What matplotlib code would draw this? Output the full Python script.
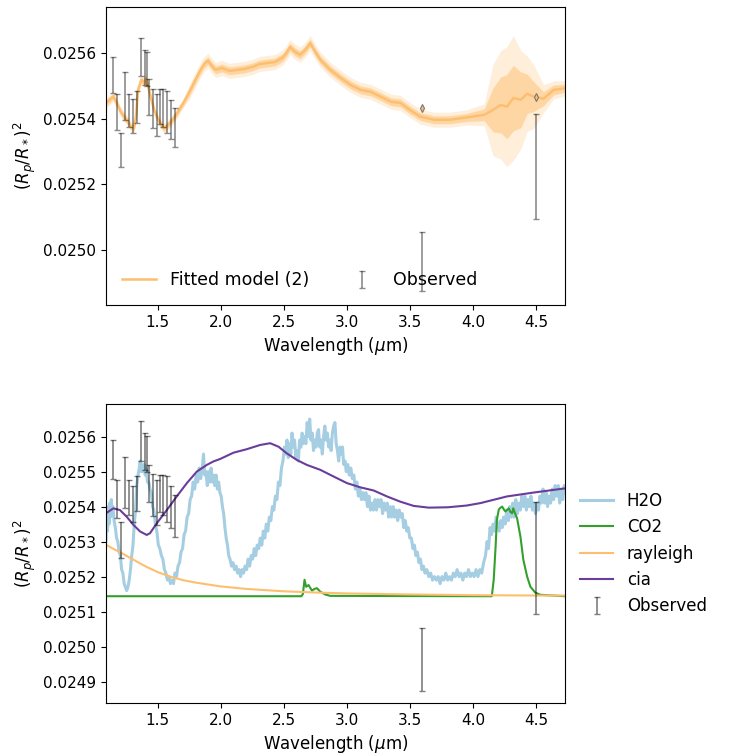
import matplotlib.pyplot as plt
from matplotlib.ticker import MultipleLocator, FormatStrFormatter

# Colours (Paired palette)
h2o_color = '#a6cee3'
co2_color = '#33a02c'
ray_color = '#fdbf6f'
cia_color = '#6a3d9a'
obs_color = 'k'

# Observed spectrum (HST + Spitzer)
obs_wl = [1.149, 1.181, 1.213, 1.244, 1.276, 1.303, 1.335, 1.371, 1.398, 1.414,
          1.433, 1.467, 1.494, 1.520, 1.546, 1.578, 1.605, 1.637, 3.6, 4.5]
obs_val = [0.025534, 0.025422, 0.025305, 0.025469, 0.025425, 0.025408, 0.025436,
           0.025587, 0.025557, 0.025551, 0.025466, 0.025432, 0.025412, 0.025438,
           0.025433, 0.025421, 0.025398, 0.025373, 0.024964, 0.025254]
obs_err = [5.5e-5, 5.5e-5, 5.2e-5, 7.4e-5, 5.0e-5, 5.1e-5, 5.0e-5, 5.8e-5, 5.3e-5,
           5.2e-5, 5.4e-5, 6.0e-5, 6.4e-5, 5.3e-5, 5.8e-5, 6.5e-5, 6.0e-5, 6.0e-5,
           9.0e-5, 1.6e-4]

# Fitted model (2) with 1 and 2 sigma half widths
model_wl = [1.091, 1.120, 1.149, 1.180, 1.208, 1.240, 1.265, 1.287, 1.313, 1.330,
            1.345, 1.371, 1.393, 1.405, 1.420, 1.445, 1.472, 1.505, 1.538, 1.552,
            1.590, 1.631, 1.670, 1.710, 1.760, 1.800, 1.840, 1.870, 1.900, 1.930,
            1.960, 2.010, 2.070, 2.130, 2.190, 2.250, 2.310, 2.370, 2.430, 2.490,
            2.520, 2.550, 2.590, 2.630, 2.670, 2.710, 2.750, 2.790, 2.870, 2.950,
            3.030, 3.110, 3.190, 3.270, 3.350, 3.425, 3.500, 3.580, 3.690, 3.820,
            3.950, 4.090, 4.160, 4.220, 4.270, 4.320, 4.380, 4.430, 4.480, 4.560,
            4.640, 4.730]
model_val = [0.025448, 0.025458, 0.025468, 0.025445, 0.025421, 0.025403, 0.025391,
             0.025376, 0.025372, 0.025412, 0.025488, 0.025519, 0.025510, 0.025522,
             0.025506, 0.025467, 0.025427, 0.025397, 0.025376, 0.025371, 0.025384,
             0.025403, 0.025427, 0.025452, 0.025488, 0.025519, 0.025549, 0.025567,
             0.025577, 0.025561, 0.025549, 0.025555, 0.025546, 0.025549, 0.025552,
             0.025558, 0.025567, 0.025570, 0.025573, 0.025586, 0.025600, 0.025619,
             0.025604, 0.025595, 0.025610, 0.025631, 0.025604, 0.025580, 0.025549,
             0.025525, 0.025503, 0.025488, 0.025482, 0.025467, 0.025452, 0.025448,
             0.025427, 0.025407, 0.025397, 0.025397, 0.025404, 0.025412, 0.025427,
             0.025442, 0.025437, 0.025463, 0.025458, 0.025476, 0.025468, 0.025461,
             0.025488, 0.025493]
sig1 = [9e-6] * 24 + [1.2e-5] * 37 + [1.8e-5, 6.7e-5, 8.5e-5, 9.8e-5, 1.0e-4,
                                      8.5e-5, 6.0e-5, 4.6e-5, 2.1e-5, 1.5e-5, 1.2e-5]
sig2 = [1.5e-5] * 24 + [2.3e-5] * 37 + [3.4e-5, 1.4e-4, 1.65e-4, 1.83e-4, 1.9e-4,
                                        1.5e-4, 1.15e-4, 9.8e-5, 4.3e-5, 2.7e-5, 2.4e-5]

# Binned model at the Spitzer points
binned_wl = [3.6, 4.5]
binned_val = [0.025434, 0.025465]

# H2O contribution
h2o_wl = [
    1.091, 1.097, 1.103, 1.109, 1.115, 1.121, 1.127, 1.133, 1.140, 1.146,
    1.155, 1.165, 1.175, 1.185, 1.195, 1.205, 1.215, 1.225, 1.235, 1.245,
    1.255, 1.265, 1.275, 1.285, 1.295, 1.305, 1.315, 1.325, 1.335, 1.345,
    1.355, 1.362, 1.370, 1.378, 1.386, 1.394, 1.402, 1.410, 1.420, 1.430,
    1.440, 1.450, 1.460, 1.470, 1.482, 1.494, 1.506, 1.518, 1.530, 1.542,
    1.554, 1.566, 1.578, 1.590, 1.602, 1.614, 1.626, 1.638, 1.650, 1.662,
    1.674, 1.686, 1.698, 1.710, 1.722, 1.734, 1.746, 1.758, 1.770, 1.782,
    1.794, 1.806, 1.818, 1.830, 1.842, 1.854, 1.864, 1.874, 1.884, 1.894,
    1.904, 1.914, 1.924, 1.934, 1.944, 1.954, 1.964, 1.974, 1.984, 1.994,
    2.004, 2.014, 2.024, 2.034, 2.044, 2.054, 2.064, 2.074, 2.086, 2.098,
    2.110, 2.122, 2.134, 2.146, 2.158, 2.170, 2.182, 2.194, 2.206, 2.218,
    2.230, 2.242, 2.254, 2.266, 2.278, 2.290, 2.302, 2.314, 2.326, 2.338,
    2.350, 2.362, 2.374, 2.386, 2.398, 2.410, 2.422, 2.434, 2.446, 2.458,
    2.470, 2.482, 2.494, 2.506, 2.516, 2.526, 2.536, 2.546, 2.556, 2.566,
    2.576, 2.586, 2.596, 2.606, 2.616, 2.626, 2.636, 2.646, 2.656, 2.666,
    2.676, 2.686, 2.696, 2.706, 2.716, 2.726, 2.736, 2.746, 2.756, 2.766,
    2.776, 2.786, 2.796, 2.806, 2.816, 2.826, 2.836, 2.846, 2.856, 2.866,
    2.876, 2.886, 2.896, 2.906, 2.916, 2.926, 2.936, 2.946, 2.956, 2.966,
    2.976, 2.986, 2.996, 3.008, 3.020, 3.032, 3.044, 3.056, 3.068, 3.080,
    3.092, 3.104, 3.116, 3.128, 3.140, 3.152, 3.164, 3.176, 3.188, 3.200,
    3.212, 3.224, 3.236, 3.248, 3.260, 3.272, 3.284, 3.296, 3.308, 3.320,
    3.332, 3.344, 3.356, 3.368, 3.380, 3.392, 3.404, 3.416, 3.428, 3.440,
    3.452, 3.464, 3.476, 3.488, 3.500, 3.512, 3.524, 3.536, 3.548, 3.560,
    3.572, 3.584, 3.596, 3.608, 3.620, 3.635, 3.650, 3.665, 3.680, 3.695,
    3.710, 3.725, 3.740, 3.755, 3.770, 3.785, 3.800, 3.815, 3.830, 3.845,
    3.860, 3.875, 3.890, 3.905, 3.920, 3.935, 3.950, 3.965, 3.980, 3.995,
    4.010, 4.025, 4.040, 4.055, 4.070, 4.085, 4.100, 4.112, 4.124, 4.136,
    4.148, 4.160, 4.172, 4.184, 4.196, 4.208, 4.220, 4.232, 4.244, 4.256,
    4.268, 4.280, 4.292, 4.304, 4.316, 4.328, 4.340, 4.352, 4.364, 4.376,
    4.388, 4.400, 4.412, 4.424, 4.436, 4.448, 4.460, 4.472, 4.484, 4.496,
    4.508, 4.520, 4.532, 4.544, 4.556, 4.568, 4.580, 4.592, 4.604, 4.616,
    4.628, 4.640, 4.652, 4.664, 4.676, 4.688, 4.700, 4.712, 4.724, 4.730]
h2o_val = [
    0.02530, 0.02538, 0.02533, 0.02540, 0.02535, 0.02541, 0.02537, 0.02542, 0.02538, 0.02540,
    0.02536, 0.02534, 0.02531, 0.02530, 0.02527, 0.02526, 0.02522, 0.02521, 0.02518, 0.02517,
    0.02516, 0.02517, 0.02519, 0.02522, 0.02526, 0.02529, 0.02535, 0.02539, 0.02546, 0.02549,
    0.02551, 0.02553, 0.02550, 0.02552, 0.02550, 0.02552, 0.02549, 0.02551, 0.02547, 0.02547,
    0.02545, 0.02544, 0.02540, 0.02539, 0.02535, 0.02533, 0.02529, 0.02528, 0.02526, 0.02525,
    0.02522, 0.02521, 0.02519, 0.02520, 0.02518, 0.02519, 0.02518, 0.02521, 0.02520, 0.02523,
    0.02524, 0.02527, 0.02528, 0.02532, 0.02533, 0.02537, 0.02538, 0.02542, 0.02543, 0.02547,
    0.02545, 0.02549, 0.02547, 0.02551, 0.02548, 0.02551, 0.02555, 0.02549, 0.02550, 0.02546,
    0.02550, 0.02547, 0.02551, 0.02547, 0.02549, 0.02546, 0.02549, 0.02545, 0.02547, 0.02544,
    0.02543, 0.02540, 0.02538, 0.02534, 0.02531, 0.02529, 0.02526, 0.02525, 0.02523, 0.02524,
    0.02522, 0.02523, 0.02521, 0.02522, 0.02520, 0.02522, 0.02521, 0.02523, 0.02522, 0.02525,
    0.02523, 0.02526, 0.02525, 0.02528, 0.02526, 0.02529, 0.02528, 0.02531, 0.02529, 0.02533,
    0.02531, 0.02535, 0.02533, 0.02537, 0.02536, 0.02540, 0.02539, 0.02543, 0.02542, 0.02547,
    0.02546, 0.02551, 0.02553, 0.02557, 0.02555, 0.02559, 0.02554, 0.02558, 0.02555, 0.02561,
    0.02557, 0.02559, 0.02554, 0.02556, 0.02553, 0.02559, 0.02557, 0.02561, 0.02558, 0.02560,
    0.02558, 0.02564, 0.02560, 0.02565, 0.02559, 0.02561, 0.02556, 0.02559, 0.02557, 0.02561,
    0.02562, 0.02557, 0.02559, 0.02555, 0.02560, 0.02563, 0.02559, 0.02561, 0.02557, 0.02559,
    0.02556, 0.02561, 0.02563, 0.02564, 0.02558, 0.02556, 0.02553, 0.02557, 0.02555, 0.02557,
    0.02552, 0.02553, 0.02550, 0.02552, 0.02549, 0.02551, 0.02548, 0.02549, 0.02545, 0.02547,
    0.02543, 0.02545, 0.02542, 0.02544, 0.02542, 0.02544, 0.02540, 0.02543, 0.02539, 0.02541,
    0.02539, 0.02542, 0.02539, 0.02542, 0.02540, 0.02542, 0.02538, 0.02541, 0.02539, 0.02541,
    0.02537, 0.02540, 0.02537, 0.02540, 0.02537, 0.02539, 0.02536, 0.02539, 0.02537, 0.02538,
    0.02534, 0.02536, 0.02533, 0.02534, 0.02531, 0.02531, 0.02528, 0.02529, 0.02526, 0.02527,
    0.02524, 0.02525, 0.02522, 0.02523, 0.02521, 0.02522, 0.02520, 0.02521, 0.02519, 0.02520,
    0.02519, 0.02520, 0.02518, 0.02520, 0.02519, 0.02521, 0.02519, 0.02520, 0.02519, 0.02521,
    0.02520, 0.02522, 0.02520, 0.02521, 0.02519, 0.02521, 0.02520, 0.02522, 0.02520, 0.02521,
    0.02520, 0.02522, 0.02520, 0.02522, 0.02521, 0.02524, 0.02526, 0.02530, 0.02528, 0.02534,
    0.02532, 0.02535, 0.02533, 0.02537, 0.02535, 0.02533, 0.02536, 0.02534, 0.02537, 0.02535,
    0.02539, 0.02536, 0.02540, 0.02537, 0.02541, 0.02537, 0.02542, 0.02538, 0.02541, 0.02539,
    0.02543, 0.02540, 0.02543, 0.02539, 0.02542, 0.02540, 0.02543, 0.02539, 0.02541, 0.02538,
    0.02541, 0.02539, 0.02543, 0.02541, 0.02545, 0.02541, 0.02544, 0.02540, 0.02543, 0.02541,
    0.02545, 0.02542, 0.02546, 0.02543, 0.02546, 0.02541, 0.02545, 0.02542, 0.02546, 0.02544]

# CO2 contribution
co2_wl = [1.091, 2.640, 2.652, 2.665, 2.678, 2.697, 2.710, 2.724, 2.745, 2.763,
          2.790, 2.829, 2.869, 4.150, 4.165, 4.180, 4.190, 4.205, 4.213, 4.232,
          4.245, 4.258, 4.270, 4.284, 4.297, 4.311, 4.320, 4.335, 4.350, 4.377,
          4.400, 4.430, 4.456, 4.496, 4.535, 4.730]
co2_val = [0.025144, 0.025144, 0.025150, 0.025191, 0.025171, 0.025176, 0.025168,
           0.025160, 0.025165, 0.025167, 0.025157, 0.025149, 0.025145, 0.025144,
           0.025191, 0.025286, 0.025362, 0.025391, 0.025395, 0.025400, 0.025392,
           0.025386, 0.025390, 0.025395, 0.025385, 0.025381, 0.025395, 0.025380,
           0.025367, 0.025314, 0.025248, 0.025200, 0.025171, 0.025154, 0.025148,
           0.025144]

# Rayleigh contribution
ray_wl = [1.091, 1.15, 1.2, 1.3, 1.4, 1.5, 1.6, 1.7, 1.8, 2.0, 2.2, 2.5, 2.8,
          3.0, 3.5, 4.0, 4.5, 4.73]
ray_val = [0.025291, 0.025279, 0.025270, 0.025250, 0.025230, 0.025213, 0.025200,
           0.025190, 0.025183, 0.025172, 0.025165, 0.025158, 0.025154, 0.025152,
           0.025149, 0.025147, 0.025146, 0.025146]

# CIA contribution
cia_wl = [1.091, 1.149, 1.202, 1.255, 1.308, 1.361, 1.414, 1.440, 1.493, 1.573,
          1.652, 1.732, 1.811, 1.890, 1.943, 1.996, 2.102, 2.208, 2.313, 2.393,
          2.459, 2.525, 2.605, 2.684, 2.790, 2.895, 3.002, 3.107, 3.213, 3.319,
          3.425, 3.530, 3.650, 3.800, 3.950, 4.060, 4.270, 4.480, 4.730]
cia_val = [0.025381, 0.025395, 0.025390, 0.025371, 0.025348, 0.025329, 0.025319,
           0.025324, 0.025352, 0.025390, 0.025429, 0.025467, 0.025500, 0.025519,
           0.025529, 0.025536, 0.025554, 0.025564, 0.025576, 0.025581, 0.025571,
           0.025552, 0.025533, 0.025519, 0.025505, 0.025486, 0.025467, 0.025455,
           0.025446, 0.025429, 0.025414, 0.025402, 0.025397, 0.025398, 0.025403,
           0.025410, 0.025429, 0.025440, 0.025452]

xlim = (1.091, 4.73)
ylabel = r'$(R_p/R_*)^2$'
xlabel = r'Wavelength ($\mu$m)'

fig = plt.figure(figsize=(7.29, 7.56), dpi=100)
ax1 = fig.add_axes([0.1454, 0.5966, 0.6296, 0.3942])
ax2 = fig.add_axes([0.1454, 0.0701, 0.6296, 0.3955])

# --- Top panel: fitted model ---
lo2 = [m - s for m, s in zip(model_val, sig2)]
hi2 = [m + s for m, s in zip(model_val, sig2)]
lo1 = [m - s for m, s in zip(model_val, sig1)]
hi1 = [m + s for m, s in zip(model_val, sig1)]
ax1.fill_between(model_wl, lo2, hi2, color=ray_color, alpha=0.25, lw=0)
ax1.fill_between(model_wl, lo1, hi1, color=ray_color, alpha=0.5, lw=0)
ax1.plot(model_wl, model_val, color=ray_color, lw=1.8, label='Fitted model (2)')
ax1.errorbar(obs_wl, obs_val, yerr=obs_err, fmt='none', ecolor=obs_color,
             alpha=0.45, elinewidth=1.2, capsize=2, label='Observed')
ax1.plot(binned_wl, binned_val, 'd', ms=4, mfc=ray_color, mec='#777777', mew=0.8)
ax1.set_xlim(xlim)
ax1.set_ylim(0.024832, 0.025741)
ax1.yaxis.set_major_locator(MultipleLocator(0.0002))
ax1.yaxis.set_major_formatter(FormatStrFormatter('%.4f'))
ax1.legend(loc='lower left', ncol=2, frameon=False, fontsize=12.5)

# --- Bottom panel: contributions ---
ax2.plot(h2o_wl, h2o_val, color=h2o_color, lw=2.2, label='H2O')
ax2.plot(co2_wl, co2_val, color=co2_color, lw=1.5, label='CO2')
ax2.plot(ray_wl, ray_val, color=ray_color, lw=1.5, label='rayleigh')
ax2.plot(cia_wl, cia_val, color=cia_color, lw=1.5, label='cia')
ax2.errorbar(obs_wl, obs_val, yerr=obs_err, fmt='none', ecolor=obs_color,
             alpha=0.5, elinewidth=1.2, capsize=2, label='Observed')
ax2.set_xlim(xlim)
ax2.set_ylim(0.024839, 0.025693)
ax2.yaxis.set_major_locator(MultipleLocator(0.0001))
ax2.yaxis.set_major_formatter(FormatStrFormatter('%.4f'))
ax2.legend(loc='center left', bbox_to_anchor=(1.0, 0.5), frameon=False, fontsize=12)

for ax in (ax1, ax2):
    ax.xaxis.set_major_locator(MultipleLocator(0.5))
    ax.xaxis.set_major_formatter(FormatStrFormatter('%.1f'))
    ax.tick_params(labelsize=11)
    ax.set_xlabel(xlabel, fontsize=12)
    ax.set_ylabel(ylabel, fontsize=12)

fig.savefig('out.png', dpi=100)
